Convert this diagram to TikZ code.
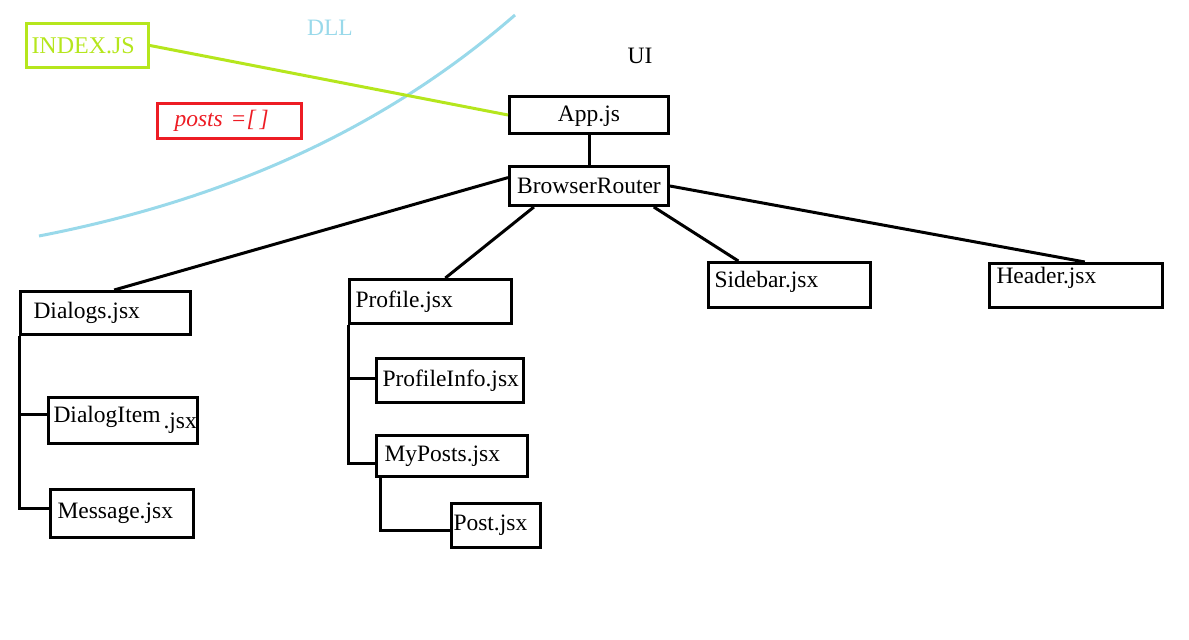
\documentclass[tikz,border=0pt]{standalone}
\usepackage{fontspec}
\setmainfont{Liberation Serif}
\usetikzlibrary{calc}
\definecolor{limeg}{HTML}{B5E61D}
\definecolor{dllblue}{HTML}{99D9EA}
\definecolor{postred}{HTML}{ED1C24}
\begin{document}
\begin{tikzpicture}[x=1pt,y=-1pt,
  box/.style={draw, line width=3pt, anchor=north west, inner ysep=0pt, align=left, font=\fontsize{23.5}{26}\selectfont},
  cbox/.style={box, align=center},
  conn/.style={line width=3pt},
  lbl/.style={font=\fontsize{23.5}{26}\selectfont, inner sep=0pt}]
\useasboundingbox (0,0) rectangle (1189,640);

% free curve and labels
\draw[dllblue, line width=3pt] (39,236) .. controls (250,195) and (400,115) .. (515,15);
\node[lbl, text=dllblue] (dll) at (330,28) {DLL};
\node[lbl] (ui) at (640,56) {UI};

% boxes
\node[box, draw=limeg, text=limeg, minimum height=44pt, text width=112pt, inner xsep=5pt, font=\fontsize{24}{26}\selectfont] (index) at (25,22) {INDEX.JS};
\node[box, draw=postred, text=postred, minimum height=35pt, text width=126pt, inner xsep=9pt] (posts) at (156,102) {\hspace{8pt}\textit{posts =[\,]}};
\node[cbox, minimum height=37pt, text width=153pt, inner xsep=3pt, text depth=2pt] (app) at (508,95) {App.js};
\node[cbox, minimum height=39pt, text width=153pt, inner xsep=3pt] (br) at (508,165) {BrowserRouter};
\node[box, minimum height=43pt, text width=144pt, inner xsep=13pt] (dialogs) at (19,290) {Dialogs.jsx};
\node[box, minimum height=44pt, text width=150pt, inner xsep=6pt] (profile) at (348,278) {Profile.jsx};
\node[box, minimum height=45pt, text width=150pt, inner xsep=6pt, text depth=12pt] (sidebar) at (707,261) {Sidebar.jsx};
\node[box, minimum height=44pt, text width=159pt, inner xsep=7pt, text depth=20pt] (header) at (988,262) {Header.jsx};
\node[box, minimum height=46pt, text width=139pt, inner xsep=5pt, text depth=12pt] (ditem) at (47,396) {\mbox{DialogItem\hspace{3pt}\raisebox{-6pt}{.jsx}}};
\node[box, minimum height=48pt, text width=129pt, inner xsep=7pt] (message) at (49,488) {Message.jsx};
\node[box, minimum height=44pt, text width=135pt, inner xsep=6pt] (pinfo) at (375,357) {ProfileInfo.jsx};
\node[box, minimum height=41pt, text width=135pt, inner xsep=8pt] (myposts) at (375,434) {MyPosts.jsx};
\node[box, minimum height=44pt, text width=85pt, inner xsep=2pt] (post) at (450,502) {Post.jsx};

% connectors
\draw[conn, limeg] (index.east) -- (app.west);
\draw[conn] (app.south) -- (br.north);
\draw[conn] ($(br.north west)!0.3!(br.south west)$) -- ($(dialogs.north west)!0.55!(dialogs.north east)$);
\draw[conn] ($(br.south west)!0.16!(br.south east)$) -- ($(profile.north west)!0.59!(profile.north east)$);
\draw[conn] ($(br.south west)!0.9!(br.south east)$) -- ($(sidebar.north west)!0.19!(sidebar.north east)$);
\draw[conn] (br.east) -- ($(header.north west)!0.55!(header.north east)$);

\draw[conn] (dialogs.south west) |- ($(message.north west)!0.4!(message.south west)$);
\coordinate (dj) at ($(ditem.north west)!0.37!(ditem.south west)$);
\draw[conn] (dialogs.south west |- dj) -- (dj);
\draw[conn] (profile.south west) |- ($(myposts.north west)!0.68!(myposts.south west)$);
\coordinate (pj) at ($(pinfo.north west)!0.45!(pinfo.south west)$);
\draw[conn] (profile.south west |- pj) -- (pj);
\draw[conn] ($(myposts.south west)!0.035!(myposts.south east)$) |- ($(post.north west)!0.6!(post.south west)$);
\end{tikzpicture}
\end{document}
